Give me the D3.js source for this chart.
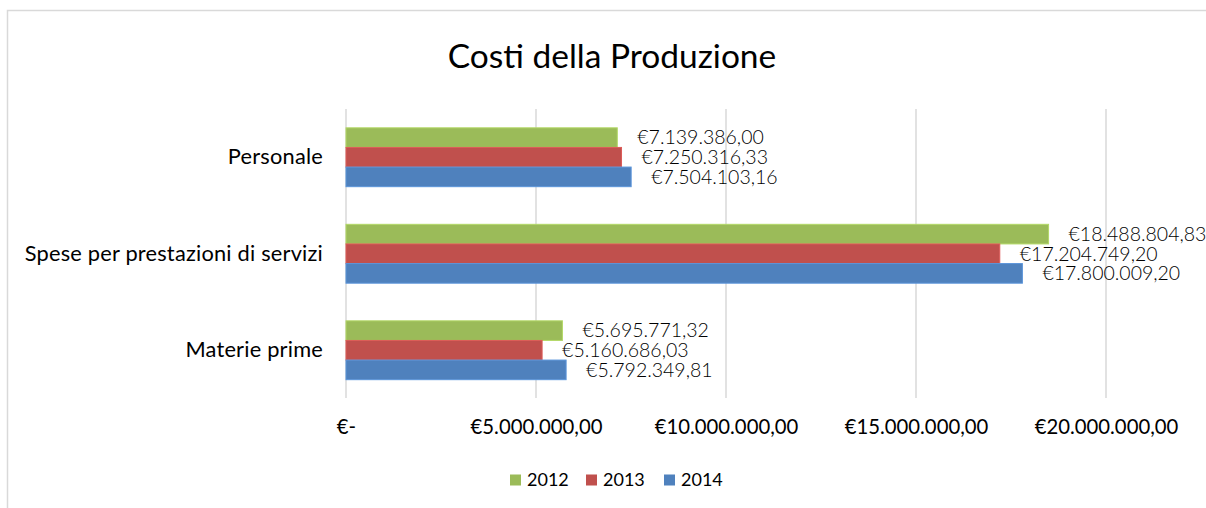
<!DOCTYPE html>
<html>
<head>
<meta charset="utf-8">
<script src="https://cdn.jsdelivr.net/npm/d3@7"></script>
<style>
  body { margin: 0; background: #fff; }
  svg text { font-family: Lato, "Open Sans", sans-serif; fill: #000; }
</style>
</head>
<body>
<div id="chart"></div>
<script>
// categories top to bottom
var categories = ["Personale", "Spese per prestazioni di servizi", "Materie prime"];
var years = ["2012", "2013", "2014"];
var colors = ["#9BBB59", "#C0504D", "#4F81BD"];

// values per year, same order as categories
var values2012 = [7139386.00, 18488804.83, 5695771.32];
var values2013 = [7250316.33, 17204749.20, 5160686.03];
var values2014 = [7504103.16, 17800009.20, 5792349.81];
var xTicks = [0, 5000000, 10000000, 15000000, 20000000];

var series = [values2012, values2013, values2014];

var W = 1206, H = 508;
var svg = d3.select("#chart").append("svg").attr("width", W).attr("height", H);

// chart border
svg.append("rect")
  .attr("x", 7.5).attr("y", 10.5)
  .attr("width", W).attr("height", H)
  .attr("fill", "none").attr("stroke", "#d9d9d9").attr("stroke-width", 1.5);

var it = d3.formatLocale({ decimal: ",", thousands: ".", grouping: [3], currency: ["€", ""] });
var money = it.format("$,.2f");

var x = d3.scaleLinear().domain([0, 20000000]).range([346, 1106]);
var y = d3.scaleBand().domain(categories).range([109, 398.5]).paddingInner(0.39).paddingOuter(0.195);
var ySub = d3.scaleBand().domain(years).range([0, y.bandwidth()]);

// title
svg.append("text")
  .attr("x", 612).attr("y", 68)
  .attr("text-anchor", "middle")
  .style("font-size", "33.5px")
  .text("Costi della Produzione");

// gridlines
svg.append("g").selectAll("line")
  .data(xTicks).enter().append("line")
  .attr("x1", function(d) { return x(d); })
  .attr("x2", function(d) { return x(d); })
  .attr("y1", 109).attr("y2", 398)
  .attr("stroke", "#d9d9d9").attr("stroke-width", 1.5);

// x axis labels
var xAxis = svg.append("g")
  .attr("transform", "translate(0,398)")
  .call(d3.axisBottom(x).tickValues(xTicks).tickSize(0).tickPadding(22)
    .tickFormat(function(d) { return d === 0 ? "€-" : money(d); }));
xAxis.select(".domain").remove();
xAxis.selectAll("text")
  .style("font-family", "Lato, sans-serif")
  .style("font-size", "20.3px").attr("fill", "#000");

// category labels
var yAxis = svg.append("g")
  .attr("transform", "translate(346,0)")
  .call(d3.axisLeft(y).tickSize(0).tickPadding(23));
yAxis.select(".domain").remove();
yAxis.selectAll("text")
  .style("font-family", "Lato, sans-serif")
  .style("font-size", "21.8px")
  .style("letter-spacing", "0.2px")
  .attr("fill", "#000");

// bars
years.forEach(function(yr, s) {
  var g = svg.append("g");
  g.selectAll("rect")
    .data(series[s]).enter().append("rect")
    .attr("x", x(0))
    .attr("y", function(d, i) { return y(categories[i]) + ySub(yr); })
    .attr("width", function(d) { return x(d) - x(0); })
    .attr("height", ySub.bandwidth())
    .attr("fill", colors[s])
    .attr("stroke", d3.color(colors[s]).brighter(0.4))
    .attr("stroke-width", 1);
  g.selectAll("text")
    .data(series[s]).enter().append("text")
    .attr("x", function(d) { return x(d) + 20; })
    .attr("y", function(d, i) { return y(categories[i]) + ySub(yr) + ySub.bandwidth() / 2; })
    .attr("dy", "0.35em")
    .style("font-size", "19.5px")
    .style("font-weight", "300")
    .attr("fill", "#222")
    .text(function(d) { return money(d); });
});

// legend
var legend = svg.append("g").attr("transform", "translate(510,480)");
var lx = [0, 76, 154];
years.forEach(function(yr, s) {
  legend.append("rect")
    .attr("x", lx[s]).attr("y", -5.5)
    .attr("width", 11).attr("height", 11)
    .attr("fill", colors[s]);
  legend.append("text")
    .attr("x", lx[s] + 17).attr("y", 0).attr("dy", "0.35em")
    .style("font-size", "18px").attr("fill", "#333")
    .text(yr);
});
</script>
</body>
</html>
